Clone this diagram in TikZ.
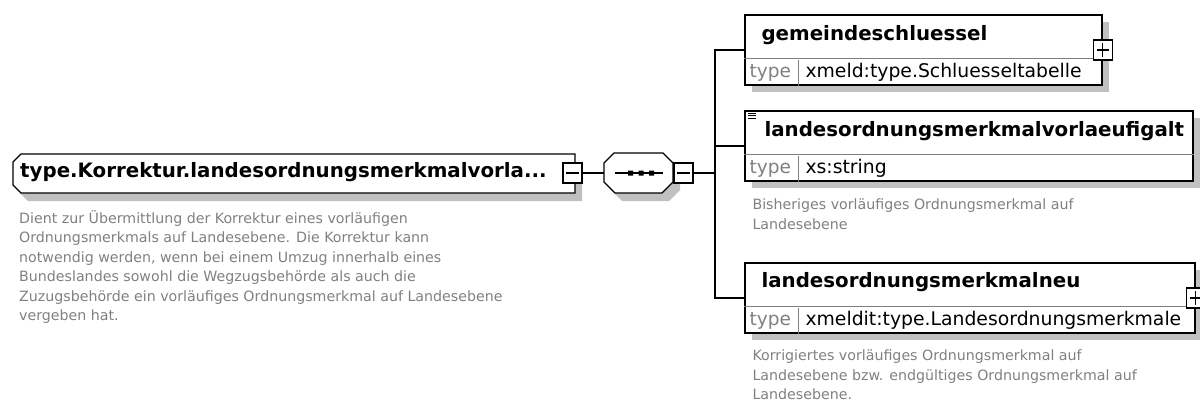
\documentclass[tikz,border=0pt]{standalone}
\usepackage{fontspec}
\setmainfont{DejaVu Sans}
\usepackage{xcolor}
\usetikzlibrary{positioning,shadows}

\definecolor{shadegray}{RGB}{192,192,192}
\definecolor{docgray}{RGB}{128,128,128}

\begin{document}
\begin{tikzpicture}[x=1pt,y=-1pt,
    elem/.style={draw, line width=1.3pt, fill=white, minimum height=70pt, inner sep=0pt,
      drop shadow={shadow xshift=7pt, shadow yshift=-7pt, fill=shadegray, opacity=1}},
    toggle/.style={draw, line width=1.1pt, fill=white, minimum width=19pt, minimum height=20pt, inner sep=0pt}]
    \tikzstyle{title} = [inner sep=0pt, font=\fontsize{19.8}{23}\selectfont\bfseries]
    \tikzstyle{typelbl} = [inner sep=0pt, text=docgray, font=\fontsize{18.5}{22}\selectfont]
    \tikzstyle{typeval} = [inner sep=0pt, font=\fontsize{18.8}{22}\selectfont]
    \tikzstyle{doc} = [inner sep=0pt, align=left, text=docgray, font=\fontsize{14.2}{19.5}\selectfont]
    \tikzstyle{conn} = [line width=1.2pt]
    \tikzstyle{sep} = [line width=0.8pt, docgray]

    \useasboundingbox (0,0) rectangle (1200,407);

    % root complex type
    \fill[shadegray] (28,162) -- (582,162) -- (582,201) -- (28,201) -- (20,193) -- (20,170) -- cycle;
    \draw[line width=1.3pt, fill=white] (21,154) -- (575,154) -- (575,193) -- (21,193) -- (13,185) -- (13,162) -- cycle;
    \node[minimum width=562pt, minimum height=39pt, inner sep=0pt] (root) at (294,173.5) {};
    \node[title, anchor=west] (roottitle) at (20,172) {type.Korrektur.landesordnungsmerkmalvorla...};
    \node[toggle] (rootminus) at (572.5,173) {};
    \draw[line width=1.1pt] ([xshift=4pt]rootminus.west) -- ([xshift=-4pt]rootminus.east);
    \node[doc, anchor=north west] (rootdoc) at (19,210) {Dient zur Übermittlung der Korrektur eines vorläufigen\\
      Ordnungsmerkmals auf Landesebene. Die Korrektur kann\\
      notwendig werden, wenn bei einem Umzug innerhalb eines\\
      Bundeslandes sowohl die Wegzugsbehörde als auch die\\
      Zuzugsbehörde ein vorläufiges Ordnungsmerkmal auf Landesebene\\
      vergeben hat.};

    % sequence
    \fill[shadegray] (621,161) -- (672,161) -- (680,169) -- (680,190) -- (669,201) -- (622,201) -- (611,190) -- (611,171) -- cycle;
    \draw[line width=1.3pt, fill=white] (614,153) -- (663,153) -- (673,163) -- (673,182) -- (662,193) -- (615,193) -- (604,182) -- (604,163) -- cycle;
    \node[minimum width=69pt, minimum height=40pt, inner sep=0pt] (seq) at (638.5,173) {};
    \draw[conn] (615,173) -- (663,173);
    \fill (628,170.5) rectangle ++(5,5) (638.5,170.5) rectangle ++(5,5) (649,170.5) rectangle ++(5,5);
    \node[toggle] (seqminus) at (683.5,173) {};
    \draw[line width=1.1pt] ([xshift=4pt]seqminus.west) -- ([xshift=-4pt]seqminus.east);
    \coordinate (spine) at (715,173);

    % child elements
    \node[elem, minimum width=357pt] (gemeinde) at (923.5,50) {};
    \node[elem, minimum width=448pt] (alt) at (969,146) {};
    \node[elem, minimum width=450pt] (neu) at (970,298) {};
    \foreach \b in {gemeinde,alt,neu} {
      \draw[sep] ([yshift=-44pt]\b.north west) -- ([yshift=-44pt]\b.north east);
      \draw[sep] ([xshift=54pt]\b.south west) -- ([xshift=54pt,yshift=26pt]\b.south west);
      \node[typelbl, anchor=west] (\b-type) at ([xshift=5pt,yshift=13pt]\b.south west) {type};
    }
    \node[title, anchor=west] (gemeinde-title) at ([xshift=17pt,yshift=-21pt]gemeinde.north west) {gemeindeschluessel};
    \node[typeval, anchor=west] (gemeinde-val) at ([xshift=61pt,yshift=13pt]gemeinde.south west) {xmeld:type.Schluesseltabelle};
    \node[toggle] (gemeinde-plus) at (gemeinde.east) {};
    \draw[line width=1.1pt] ([xshift=4pt]gemeinde-plus.west) -- ([xshift=-4pt]gemeinde-plus.east)
      ([yshift=-4pt]gemeinde-plus.north) -- ([yshift=4pt]gemeinde-plus.south);

    \node[title, anchor=west] (alt-title) at ([xshift=20pt,yshift=-21pt]alt.north west) {landesordnungsmerkmalvorlaeufigalt};
    \node[typeval, anchor=west] (alt-val) at ([xshift=61pt,yshift=13pt]alt.south west) {xs:string};
    \draw[line width=0.8pt] ([xshift=4pt,yshift=-3pt]alt.north west) -- ++(8pt,0pt)
      ([xshift=4pt,yshift=-5.5pt]alt.north west) -- ++(8pt,0pt)
      ([xshift=4pt,yshift=-8pt]alt.north west) -- ++(8pt,0pt);
    \node[doc, anchor=north west] (alt-doc) at ([xshift=8pt,yshift=-17pt]alt.south west) {Bisheriges vorläufiges Ordnungsmerkmal auf\\Landesebene};

    \node[title, anchor=west] (neu-title) at ([xshift=17pt,yshift=-20pt]neu.north west) {landesordnungsmerkmalneu};
    \node[typeval, anchor=west] (neu-val) at ([xshift=61pt,yshift=13pt]neu.south west) {xmeldit:type.Landesordnungsmerkmale};
    \node[toggle] (neu-plus) at (neu.east) {};
    \draw[line width=1.1pt] ([xshift=4pt]neu-plus.west) -- ([xshift=-4pt]neu-plus.east)
      ([yshift=-4pt]neu-plus.north) -- ([yshift=4pt]neu-plus.south);
    \node[doc, anchor=north west] (neu-doc) at ([xshift=8pt,yshift=-16pt]neu.south west) {Korrigiertes vorläufiges Ordnungsmerkmal auf\\
      Landesebene bzw. endgültiges Ordnungsmerkmal auf\\Landesebene.};

    % connectors
    \draw[conn] (rootminus.east) -- (seq.west);
    \draw[conn] (seqminus.east) -- (spine);
    \draw[conn] (gemeinde.west) -| (spine) |- (neu.west);
    \draw[conn] (spine |- alt.west) -- (alt.west);
\end{tikzpicture}
\end{document}
